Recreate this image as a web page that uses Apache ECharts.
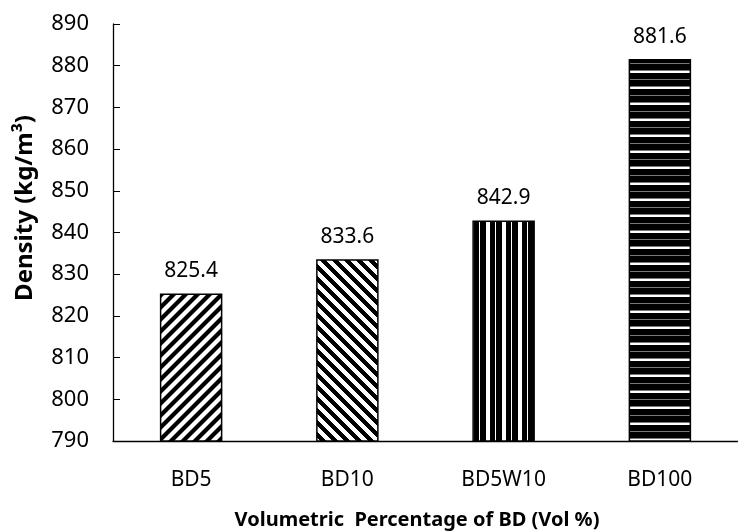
<!DOCTYPE html>
<html>
<head>
<meta charset="utf-8">
<script src="https://cdn.jsdelivr.net/npm/echarts@6/dist/echarts.min.js"></script>
<style>
  html, body { margin: 0; padding: 0; background: #fff; }
  #chart { width: 738px; height: 531px; }
</style>
</head>
<body>
<div id="chart"></div>
<script>
// Fuel blends and their measured densities (kg/m³)
const categories = ['BD5', 'BD10', 'BD5W10', 'BD100'];
const densities = [825.4, 833.6, 842.9, 881.6];
const yTicks = { min: 790, max: 890, step: 10 };

// Hatch fills, one per bar
function makeTile(w, h, draw) {
  const c = document.createElement('canvas');
  c.width = w; c.height = h;
  const ctx = c.getContext('2d');
  ctx.fillStyle = '#fff';
  ctx.fillRect(0, 0, w, h);
  draw(ctx, w, h);
  return c;
}

// Up-right diagonal stripes, soft edges
const hatchUp = makeTile(12, 12, (ctx, w, h) => {
  ctx.strokeStyle = '#000';
  ctx.lineWidth = 4.2;
  for (let k = -1; k <= 1; k++) {
    ctx.beginPath();
    ctx.moveTo(k * w - 2, h + 2);
    ctx.lineTo(k * w + w + 2, -2);
    ctx.stroke();
  }
});

// Down-right diagonal stripes, stepped edges
const hatchDown = makeTile(12, 12, (ctx, w, h) => {
  ctx.fillStyle = '#000';
  for (let y = 0; y < h; y++) {
    for (let x = 0; x < w; x++) {
      const d = ((x - y) % 12 + 12) % 12;
      if (d < 6) ctx.fillRect(x, y, 1, 1);
    }
  }
});

// Vertical stripes
const hatchVert = makeTile(16, 4, (ctx, w, h) => {
  ctx.fillStyle = '#000';
  ctx.fillRect(0, 0, 6, h);
  ctx.fillRect(10, 0, 5, h);
});

// Horizontal stripes
const hatchHorz = makeTile(4, 16, (ctx, w, h) => {
  ctx.fillStyle = '#000';
  ctx.fillRect(0, 0, w, 6);
  ctx.fillRect(0, 9, w, 6);
  ctx.fillStyle = '#777';
  ctx.fillRect(0, 6, w, 1);
  ctx.fillRect(0, 15, w, 1);
});

const fills = [hatchUp, hatchDown, hatchVert, hatchHorz];

const FONT = '"Noto Sans", "Open Sans", sans-serif';

const chart = echarts.init(document.getElementById('chart'), null, { renderer: 'canvas' });
chart.setOption({
  animation: false,
  backgroundColor: '#fff',
  grid: { left: 113, right: -15, top: 24, bottom: 90, containLabel: false },
  title: {
    text: 'Volumetric  Percentage of BD (Vol %)',
    left: 412,
    top: 505,
    textAlign: 'center',
    textStyle: { fontFamily: FONT, fontSize: 20, fontWeight: 'bold', color: '#000' }
  },
  graphic: [{
    type: 'text',
    x: 25,
    y: 208,
    rotation: Math.PI / 2,
    style: {
      text: 'Density (kg/m³)',
      fill: '#000',
      font: 'bold 24px ' + FONT,
      textAlign: 'center',
      textVerticalAlign: 'middle'
    }
  }],
  xAxis: {
    type: 'category',
    data: categories,
    axisLine: { lineStyle: { color: '#000', width: 1.3 } },
    axisTick: { show: false },
    axisLabel: { color: '#000', fontFamily: FONT, fontSize: 21, margin: 29 }
  },
  yAxis: {
    type: 'value',
    min: yTicks.min,
    max: yTicks.max,
    interval: yTicks.step,
    axisLine: { show: true, lineStyle: { color: '#000', width: 1.3 } },
    axisTick: { show: true, inside: true, length: 7, lineStyle: { color: '#000' } },
    splitLine: { show: false },
    axisLabel: { color: '#000', fontFamily: FONT, fontSize: 22, margin: 24 }
  },
  series: [{
    type: 'bar',
    barWidth: '40%',
    data: densities.map((v, i) => ({
      value: v,
      itemStyle: {
        color: { image: fills[i], repeat: 'repeat' },
        borderColor: '#000',
        borderWidth: 1.5
      }
    })),
    label: {
      show: true,
      position: 'top',
      distance: 12,
      color: '#000',
      fontFamily: FONT,
      fontSize: 21,
      formatter: p => p.value.toFixed(1)
    }
  }]
});
</script>
</body>
</html>
